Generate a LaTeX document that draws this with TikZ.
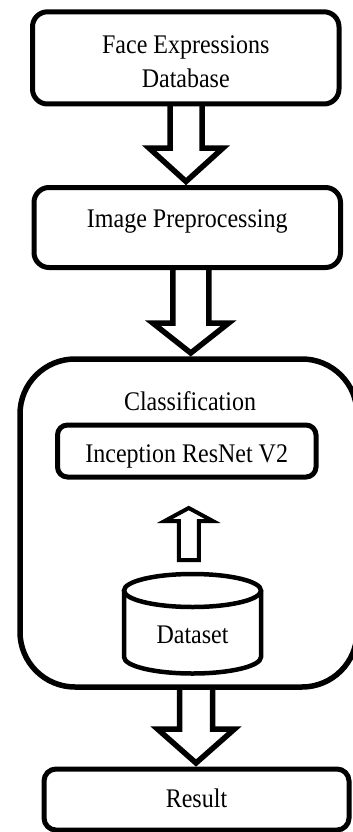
\documentclass[tikz,border=0pt]{standalone}
\usepackage{fontspec}
\setmainfont{Liberation Serif}
\usepackage{graphicx}
\usetikzlibrary{calc}
\newcommand\vs[1]{\scalebox{1}[1.12]{#1}}
% fat hollow arrow pointing down: #1 from anchor, #2 target anchor, #3 x offset of axis,
% #4 shaft half width, #5 head half width, #6 head length
\newcommand\fatdown[6]{%
  \draw[fat] let \p1=(#1), \p2=($(#2)+(#3,-6)$) in
    (\x2-#4,\y1) -- (\x2-#4,\y2+#6) -- (\x2-#5,\y2+#6) -- (\x2,\y2)
    -- (\x2+#5,\y2+#6) -- (\x2+#4,\y2+#6) -- (\x2+#4,\y1);}
\begin{document}
\begin{tikzpicture}[x=1pt,y=-1pt,
  font=\fontsize{24}{31}\selectfont,
  box/.style={draw, line width=5pt, rectangle, inner sep=0pt, outer sep=0pt, align=center},
  fat/.style={draw, line width=5.5pt, line join=miter, miter limit=10},
  upfat/.style={draw, line width=4pt, line join=miter, miter limit=10},
  cyl/.style={line width=4.5pt}]
\useasboundingbox (0,0) rectangle (353,832);

\node[box, rounded corners=15pt, minimum width=306.5pt, minimum height=92.2pt,
      text height=20pt, text depth=29.4pt] (b1) at (185.75,57.9)
  {\vs{\begin{tabular}[t]{@{}c@{}}Face Expressions\\Database\end{tabular}}};

\node[box, rounded corners=15pt, minimum width=306.5pt, minimum height=80pt,
      text height=15pt, text depth=16pt] (b2) at (187.25,227.5) {\vs{Image Preprocessing}};

\node[box, line width=5.5pt, rounded corners=55pt, minimum width=337pt, minimum height=328pt]
  (cls) at (188.5,523) {};
\node[anchor=base, inner sep=0pt] (clst) at (190,410) {\vs{Classification}};

\node[box, rounded corners=10pt, minimum width=258.5pt, minimum height=52pt,
      text height=22pt, text depth=0pt] (inc) at (186.75,451) {\vs{Inception ResNet V2}};

% dataset cylinder
\coordinate (dstop) at (192.5,574);
\draw[cyl] (124,590.5) -- (124,657)
  arc[start angle=180, end angle=360, x radius=68.5pt, y radius=16.5pt] -- (261,590.5);
\draw[cyl] (192.5,590.5) ellipse [x radius=68.5pt, y radius=16.5pt];
\node[anchor=base, inner sep=0pt] (ds) at (192.5,643) {\vs{Dataset}};

\node[box, rounded corners=12pt, minimum width=305pt, minimum height=61pt,
      text height=20pt, text depth=4.4pt] (res) at (196.5,799.5) {\vs{Result}};

% arrows
\fatdown{b1.south}{b2.north}{-1.25}{16pt}{37pt}{33.5pt}
\fatdown{b2.south}{cls.north}{2.25}{18pt}{38pt}{30pt}
\fatdown{cls.south}{res.north}{-0.5}{16.5pt}{38.5pt}{34pt}

\draw[upfat] let \p1=($(dstop)+(0,-14)$), \p2=($(inc.south)+(2,31)$) in
  (\x2-10pt,\y1) -- (\x2-10pt,\y2-13pt) -- (\x2-24pt,\y2-13pt) -- (\x2,\y2)
  -- (\x2+24pt,\y2-13pt) -- (\x2+10pt,\y2-13pt) -- (\x2+10pt,\y1) -- cycle;
\end{tikzpicture}
\end{document}
